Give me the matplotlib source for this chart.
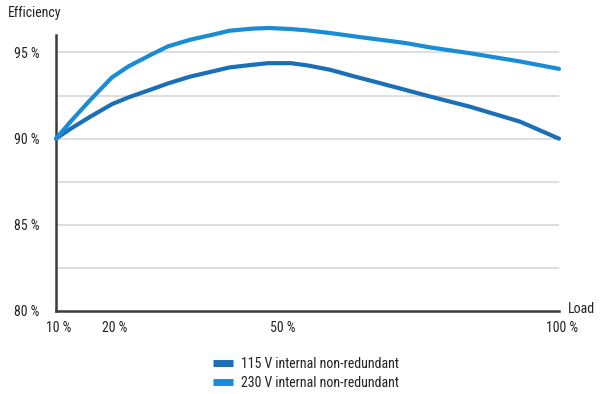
import matplotlib
matplotlib.use('Agg')
from matplotlib import pyplot as plt
from matplotlib import transforms

load = [10, 12.5, 16, 20, 23, 27, 30, 34, 38, 41, 45, 48, 52, 55, 59, 63.5,
        68, 72.5, 77, 84, 93, 100]
eff_115 = [90.0, 90.55, 91.25, 92.0, 92.4, 92.85, 93.2, 93.6, 93.9, 94.13,
           94.28, 94.38, 94.38, 94.25, 94.0, 93.6, 93.22, 92.83, 92.44,
           91.86, 90.99, 90.0]
eff_230 = [90.0, 90.95, 92.2, 93.55, 94.2, 94.87, 95.35, 95.74, 96.03, 96.26,
           96.38, 96.42, 96.36, 96.28, 96.13, 95.93, 95.74, 95.55, 95.29,
           94.96, 94.48, 94.05]

x_ticks = [10, 20, 50, 100]
x_tick_labels = ['10 %', '20 %', '50 %', '100 %']
y_ticks = [80, 85, 90, 95]
y_tick_labels = ['80 %', '85 %', '90 %', '95 %']
grid_levels = [82.5, 85, 87.5, 90, 92.5, 95]

plt.rcParams['font.family'] = ['Roboto Condensed', 'Roboto', 'DejaVu Sans']
plt.rcParams['font.size'] = 10

fig = plt.figure(figsize=(6, 3.94), dpi=100)
ax = fig.add_axes([56 / 600, 83 / 394, 503 / 600, 293 / 394])

for level in grid_levels:
    ax.axhline(level, color='#d4d4d4', lw=1.1, zorder=1)

line_115, = ax.plot(load, eff_115, color='#1a6fb6', lw=3,
                    solid_capstyle='round', solid_joinstyle='round',
                    clip_on=False, zorder=3,
                    label='115 V internal non-redundant')
line_230, = ax.plot(load, eff_230, color='#1a8cd4', lw=3,
                    solid_capstyle='round', solid_joinstyle='round',
                    clip_on=False, zorder=4,
                    label='230 V internal non-redundant')

ax.set_xlim(10, 100)
ax.set_ylim(80, 97)
for side in ['top', 'right']:
    ax.spines[side].set_visible(False)
for side in ['left', 'bottom']:
    ax.spines[side].set_color('#3c3c3c')
    ax.spines[side].set_linewidth(1.8)
ax.spines['left'].set_bounds(80, 96)

ax.set_xticks(x_ticks)
ax.set_xticklabels(x_tick_labels, color='#222222')
ax.set_yticks(y_ticks)
ax.set_yticklabels(y_tick_labels, color='#222222')
ax.tick_params(axis='both', length=0)
ax.tick_params(axis='y', pad=12)
ax.tick_params(axis='x', pad=7)
shift = transforms.ScaledTranslation(3 / 100, 0, fig.dpi_scale_trans)
for label in ax.get_xticklabels():
    label.set_transform(label.get_transform() + shift)

fig.text(8 / 600, 1 - 6 / 394, 'Efficiency', ha='left', va='top',
         fontsize=10, color='#222222')
fig.text(568 / 600, 1 - 302 / 394, 'Load', ha='left', va='top',
         fontsize=10, color='#222222')

fig.legend(handles=[line_115, line_230], loc='upper left',
           bbox_to_anchor=(200 / 600, 1 - 344 / 394), frameon=False,
           handlelength=1.45, handletextpad=0.6, labelspacing=0.4,
           fontsize=10, labelcolor='#222222')
for handle in fig.legends[0].get_lines():
    handle.set_linewidth(5)
    handle.set_solid_capstyle('butt')

fig.savefig('out.png', dpi=100)
